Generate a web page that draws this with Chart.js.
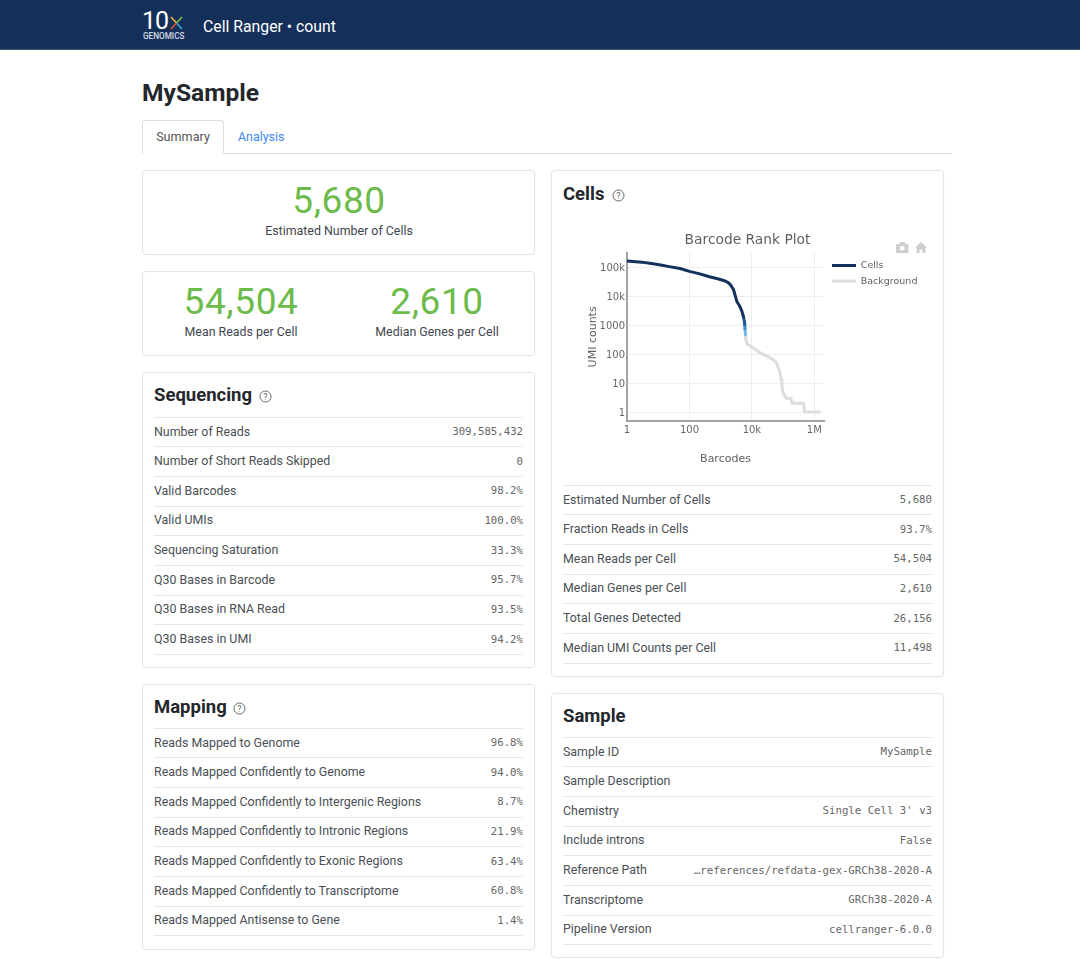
<!DOCTYPE html>
<html><head><meta charset="utf-8">
<script src="https://cdn.jsdelivr.net/npm/chart.js@4/dist/chart.umd.min.js"></script>
<style>
@font-face{font-family:"LogoDigits";src:local("Roboto Light"),local("Roboto");ascent-override:93%;descent-override:0%;line-gap-override:0%}
html,body{margin:0;padding:0;background:#fff;width:1080px;height:959px;overflow:hidden;font-family:Roboto,sans-serif;color:#333}
.abs{position:absolute;white-space:nowrap}
.card{position:absolute;box-sizing:border-box;background:#fff;border:1px solid #e4e4e4;border-radius:4px;box-shadow:0 0 2px rgba(0,0,0,.04)}
.sep{position:absolute;height:1px;background:#e6e6e6}
.lab{position:absolute;white-space:nowrap;font-size:12.4px;color:#4a4f55;line-height:16px}
.val{position:absolute;white-space:nowrap;font-family:"DejaVu Sans Mono",monospace;font-size:10.7px;color:#666;line-height:16px;text-align:right}
.h2{position:absolute;white-space:nowrap;font-weight:700;font-size:18.5px;color:#23272b;line-height:24px}
.big{position:absolute;white-space:nowrap;font-size:37px;color:#6cbb4b;line-height:44px;text-align:center;letter-spacing:.6px;transform:translateX(-50%)}
.cap{position:absolute;white-space:nowrap;font-size:12.4px;color:#3f4650;line-height:16px;transform:translateX(-50%)}
canvas{position:absolute;left:563px;top:222px}
</style></head><body>
<div class="abs" style="left:0;top:0;width:1080px;height:50px;background:#14305a;border-bottom:1px solid #3c5273;box-sizing:border-box"></div>
<div class="abs" style="left:142px;top:8px;font-family:LogoDigits,Roboto,sans-serif;font-size:25px;color:#fff;line-height:20px;letter-spacing:-.6px">10</div>
<svg class="abs" style="left:170px;top:16px" width="13" height="14" viewBox="0 0 13 14"><path d="M1 1L6.500 7" stroke="#f2b632" stroke-width="1.6"/><path d="M12 1L6.500 7" stroke="#7fbf4d" stroke-width="1.6"/><path d="M1 13L6.500 7" stroke="#e8502f" stroke-width="1.6"/><path d="M12 13L6.500 7" stroke="#37a7d8" stroke-width="1.6"/></svg>
<div class="abs" style="left:143px;top:31px;font-size:8.2px;font-weight:500;color:#d5dbe4;line-height:10px">GENOMICS</div>
<div class="abs" style="left:203px;top:17px;font-size:15.8px;color:#fff;line-height:20px">Cell Ranger • count</div>
<div class="abs" style="left:142px;top:78px;font-size:24.6px;font-weight:700;color:#23272b;line-height:30px">MySample</div>
<div class="abs" style="left:142px;top:153px;width:810px;height:1px;background:#dedede"></div>
<div class="abs" style="left:142px;top:120px;width:82px;height:34px;box-sizing:border-box;border:1px solid #dedede;border-bottom:1px solid #fff;border-radius:4px 4px 0 0;background:#fff;text-align:center;font-size:12.6px;line-height:31px;color:#555">Summary</div>
<div class="abs" style="left:238px;top:129px;font-size:12.4px;line-height:16px;color:#3d85f0">Analysis</div>
<div id="page"></div>
<svg class="abs" style="left:895px;top:241px" width="34" height="13" viewBox="0 0 34 13" fill="#cfcfcf"><path d="M1 3h3l1.5-2h4L11 3h2.500v9H1z"/><circle cx="7.200" cy="7.200" r="2.400" fill="#fff"/><path d="M20 6.500L26 1l6 5.500h-1.600V12h-3V8.500h-2.800V12h-3V6.500z"/></svg>
<canvas id="c" width="369" height="260" style="width:369px;height:260px"></canvas>
<script>
// ---- page tables ----
const sequencingLabels=["Number of Reads","Number of Short Reads Skipped","Valid Barcodes","Valid UMIs","Sequencing Saturation","Q30 Bases in Barcode","Q30 Bases in RNA Read","Q30 Bases in UMI"];
const sequencingValues=["309,585,432","0","98.2%","100.0%","33.3%","95.7%","93.5%","94.2%"];
const mappingLabels=["Reads Mapped to Genome","Reads Mapped Confidently to Genome","Reads Mapped Confidently to Intergenic Regions","Reads Mapped Confidently to Intronic Regions","Reads Mapped Confidently to Exonic Regions","Reads Mapped Confidently to Transcriptome","Reads Mapped Antisense to Gene"];
const mappingValues=["96.8%","94.0%","8.7%","21.9%","63.4%","60.8%","1.4%"];
const cellsLabels=["Estimated Number of Cells","Fraction Reads in Cells","Mean Reads per Cell","Median Genes per Cell","Total Genes Detected","Median UMI Counts per Cell"];
const cellsValues=["5,680","93.7%","54,504","2,610","26,156","11,498"];
const sampleLabels=["Sample ID","Sample Description","Chemistry","Include introns","Reference Path","Transcriptome","Pipeline Version"];
const sampleValues=["MySample","","Single Cell 3' v3","False","…references/refdata-gex-GRCh38-2020-A","GRCh38-2020-A","cellranger-6.0.0"];

// ---- chart data ----
const cellsRanks=[1,3,6,12,25,50,100,200,466,800,1240,1700,2040,2570,3300,4000,4800,5400];
const cellsUmis=[165000,150000,135000,120000,103000,90000,72000,60000,46000,40000,35000,30000,25000,17000,6600,4700,3000,1900];
const midRanksA=[5400,5700,5850];
const midUmisA=[1900,1400,1100];
const midRanksB=[5850,5950,6000];
const midUmisB=[1100,900,750];
const midRanksC=[6000,6100,6200];
const midUmisC=[750,600,470];
const backgroundRanks=[6200,6350,6500,7200,10000,13000,18600,30000,49000,60000,71000,80000,87000,92000,98000,108000,126000,178000,190000,250000,447000,470000,480000,800000,1450000];
const backgroundUmis=[470,350,275,220,175,145,110,85,63,52,33,22,13,8,4.7,4,3,3,2,2,2,1.5,1,1,1];
const xTickValues=[1,100,10000,1000000];
const yTickValues=[1,10,100,1000,10000,100000];
const xTickNames={1:"1",100:"100",10000:"10k",1000000:"1M"};
const yTickNames={1:"1",10:"10",100:"100",1000:"1000",10000:"10k",100000:"100k"};

function pts(xs,ys){return xs.map((x,i)=>({x,y:ys[i]}));}
const page=document.getElementById('page');
function el(cls,left,top,text,extra){const d=document.createElement('div');d.className=cls;d.style.left=left+'px';d.style.top=top+'px';if(text!==undefined)d.textContent=text;if(extra)Object.assign(d.style,extra);page.appendChild(d);return d;}
function card(l,t,w,h){el('card',l,t,undefined,{width:w+'px',height:h+'px'});}
function help(x,y){const ns='http://www.w3.org/2000/svg';const s=document.createElementNS(ns,'svg');s.setAttribute('width','13');s.setAttribute('height','13');s.setAttribute('viewBox','0 0 13 13');s.style.cssText='position:absolute;left:'+x+'px;top:'+y+'px';s.innerHTML='<circle cx="6.500" cy="6.500" r="5.500" fill="none" stroke="#666" stroke-width="1"/><text x="6.500" y="9.500" text-anchor="middle" font-family="Roboto" font-size="9" fill="#666">?</text>';page.appendChild(s);}
function table(left,right,firstSep,labels,values){
  const pitch=29.65;
  el('sep',left,firstSep,undefined,{width:(right-left)+'px'});
  labels.forEach((t,i)=>{
    const y=firstSep+pitch*i;
    el('sep',left,Math.round(y+pitch-0.3),undefined,{width:(right-left)+'px'});
    el('lab',left,y+6.5,t);
    el('val',left,y+7,values[i],{width:(right-left)+'px'});
  });
}
card(142,170,393,85);card(142,271,393,85);card(142,372,393,296);card(142,684,393,266);card(551,170,393,507);card(551,693,393,265);
el('big',339,179,'5,680');el('cap',339,223,'Estimated Number of Cells');
el('big',241,280,'54,504');el('cap',241,324,'Mean Reads per Cell');
el('big',437,280,'2,610');el('cap',437,324,'Median Genes per Cell');
el('h2',154,383,'Sequencing');help(259,390);
el('h2',154,695,'Mapping');help(233,702);
el('h2',563,182,'Cells');help(612,189);
el('h2',563,704,'Sample');
table(154,523,417,sequencingLabels,sequencingValues);
table(154,523,728,mappingLabels,mappingValues);
table(563,932,485,cellsLabels,cellsValues);
table(563,932,737,sampleLabels,sampleValues);

const plotFont='"DejaVu Sans",sans-serif';
function line(label,xs,ys,color,order){return {label,data:pts(xs,ys),borderColor:color,backgroundColor:color,borderWidth:3,pointRadius:0,tension:0,borderJoinStyle:'round',borderCapStyle:'round',pointStyle:'line',order};}
document.fonts.load('25px LogoDigits');
new Chart(document.getElementById('c'),{
  type:'line',
  data:{datasets:[
    line('Cells',cellsRanks,cellsUmis,'#12305c',1),
    line('Background',backgroundRanks,backgroundUmis,'#dddddd',5),
    line('mid1',midRanksA,midUmisA,'#1f5a96',2),
    line('mid2',midRanksB,midUmisB,'#3f8ac8',3),
    line('mid3',midRanksC,midUmisC,'#74b6e6',4)
  ]},
  options:{
    responsive:false,animation:false,devicePixelRatio:1,
    layout:{padding:{left:0,top:0,bottom:0,right:21}},
    plugins:{
      title:{display:true,text:'Barcode Rank Plot',color:'#5f5f5f',font:{family:plotFont,size:13.8,weight:'normal'},padding:{top:10.6,bottom:3.6}},
      legend:{position:'right',align:'start',
        labels:{usePointStyle:true,pointStyleWidth:24,padding:6,color:'#5f5f5f',font:{family:plotFont,size:9.5},
          filter:i=>i.text==='Cells'||i.text==='Background'}},
      tooltip:{enabled:false}
    },
    scales:{
      x:{type:'logarithmic',min:1,max:2040000,
        afterBuildTicks:s=>{s.ticks=xTickValues.map(value=>({value}));},
        afterFit:s=>{s.height=61;},
        grid:{color:'#eeeeee',lineWidth:1,drawTicks:false},
        border:{color:'#a3a3a3',width:2},
        ticks:{color:'#666',font:{family:plotFont,size:10},padding:3,maxRotation:0,autoSkip:false,callback:v=>xTickNames[v]??''},
        title:{display:true,text:'Barcodes',color:'#5f5f5f',font:{family:plotFont,size:11},padding:{top:0,bottom:16}}},
      y:{type:'logarithmic',min:0.49,max:316000,
        afterBuildTicks:s=>{s.ticks=yTickValues.map(value=>({value}));},
        afterFit:s=>{s.width=64;},
        grid:{color:'#eeeeee',lineWidth:1,drawTicks:false},
        border:{color:'#a3a3a3',width:2},
        ticks:{color:'#666',font:{family:plotFont,size:10},padding:2,labelOffset:1,autoSkip:false,callback:v=>yTickNames[v]??''},
        title:{display:true,text:'UMI counts',color:'#5f5f5f',font:{family:plotFont,size:11},padding:{top:24,bottom:0}}}
    }
  },
  plugins:[{id:'placeBlocks',afterLayout(chart){chart.legend.left=263;chart.legend.right=369;chart.legend.top=32.8;chart.titleBlock.right=369;}}]
});
</script>
</body></html>
